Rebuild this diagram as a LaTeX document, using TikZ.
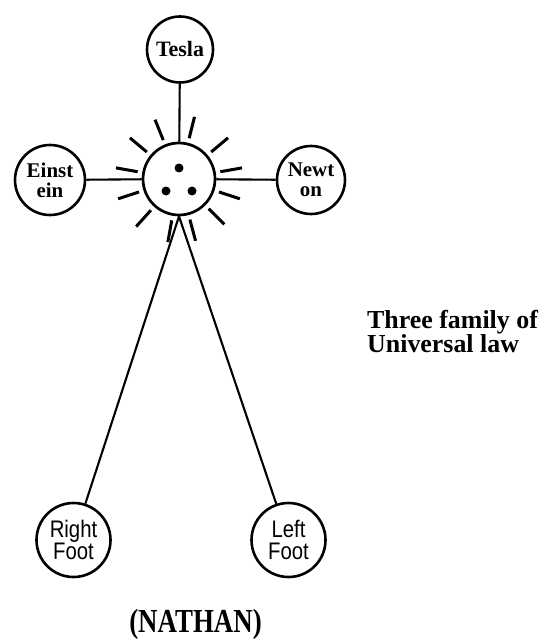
\documentclass[tikz,border=0pt]{standalone}
\usepackage{fontspec}
\usepackage{graphicx}
\setmainfont{Liberation Serif}
\newfontfamily\arialfont{Liberation Sans}
\begin{document}
\begin{tikzpicture}[x=1bp,y=1bp,
  person/.style={circle,draw,line width=2.6bp,inner sep=0pt,minimum size=#1,
    font=\bfseries\fontsize{21}{20}\selectfont,align=center},
  footnode/.style={circle,draw,line width=2.6bp,inner sep=0pt,minimum size=74bp,
    font=\arialfont\fontsize{24}{22}\selectfont,align=center},
  hubnode/.style={circle,draw,line width=2.7bp,inner sep=0pt,minimum size=72bp},
  link/.style={line width=2.1bp},
  ray/.style={line width=3bp},
  dotmark/.style={fill=black}]
\useasboundingbox (0,0) rectangle (551,-641);
\node[hubnode] (hub) at (179,-179) {};
\node[person=66bp,font=\bfseries\fontsize{22}{17}\selectfont] (tesla) at (180,-49.5) {Tesla};
\node[person=70bp] (einstein) at (50,-180) {Einst\\ein};
\node[person=68bp] (newton) at (311,-180) {Newt\\on};
\node[footnode] (rf) at (73.5,-540) {\scalebox{0.85}[1]{Right}\\\scalebox{0.85}[1]{Foot}};
\node[footnode] (lf) at (288.5,-540) {\scalebox{0.85}[1]{Left}\\\scalebox{0.85}[1]{Foot}};
\draw[link] (tesla) -- (hub);
\draw[link] (einstein) -- (hub);
\draw[link] (newton) -- (hub);
\draw[link] (hub.south) -- (rf);
\draw[link] (hub.south) -- (lf);
\foreach \a in {10,40,76,112,140,170,198,228,260,285,315,342}
  \draw[ray] ([shift={(\a:42)}]hub.center) -- ++(\a:22);
\fill[dotmark] (179,-168) circle (4.5);
\fill[dotmark] (166,-191) circle (4.5);
\fill[dotmark] (192,-191) circle (4.5);
\node[anchor=base west,font=\bfseries\fontsize{26}{24}\selectfont,align=left,inner sep=0pt] (law) at (367,-352) {Three family of\\Universal law};
\node[anchor=base,font=\bfseries\fontsize{27}{27}\selectfont,inner sep=0pt] (nathan) at (195.5,-632) {\scalebox{1}[1.25]{(NATHAN)}};
\end{tikzpicture}
\end{document}
